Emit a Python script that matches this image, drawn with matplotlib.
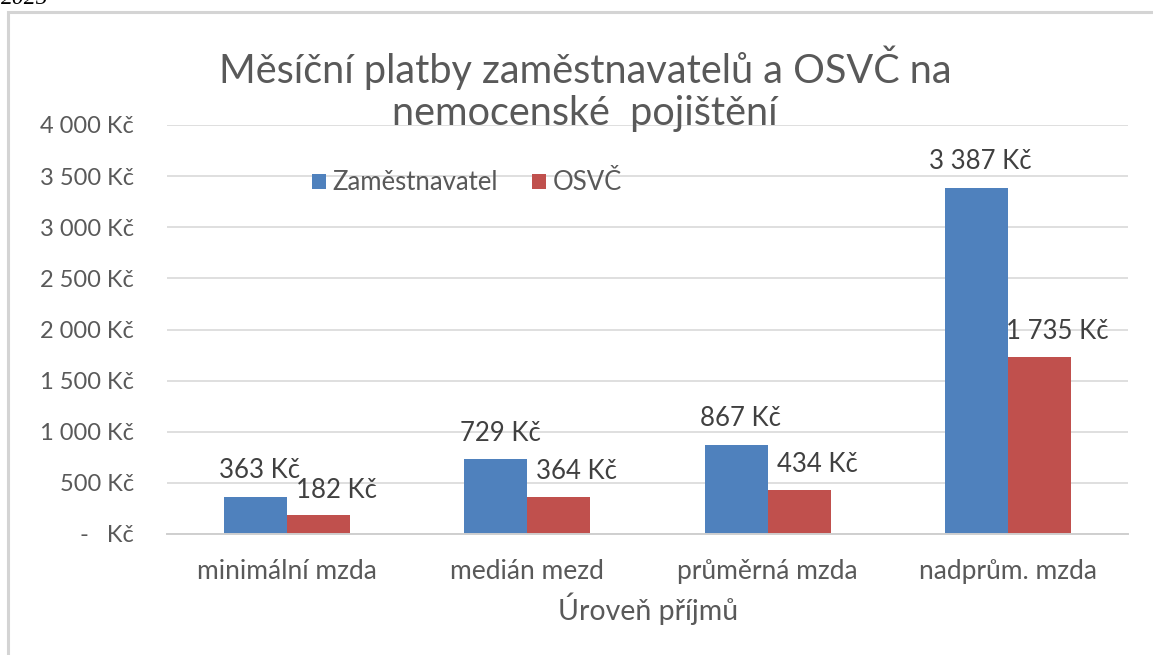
#################### Libraries
import matplotlib.pyplot as plt
from matplotlib.patches import Rectangle
from matplotlib.ticker import FuncFormatter

#################### Data
kategorie = ['minimální mzda', 'medián mezd', 'průměrná mzda', 'nadprům. mzda']
zamestnavatel = [363, 729, 867, 3387]
osvc = [182, 364, 434, 1735]
serie_nazvy = ['Zaměstnavatel', 'OSVČ']

#################### Style
plt.rcParams['font.family'] = ['Lato', 'DejaVu Sans']
modra = '#4F81BD'
cervena = '#C0504D'
seda_text = '#595959'

def kc(v, pos=None):
    if v == 0:
        return '-   Kč'
    return '{:,} Kč'.format(int(v)).replace(',', ' ')

#################### Figure
fig = plt.figure(figsize=(11.53, 6.55), dpi=100)
ax = fig.add_axes([167/1153, 1-534/655, 961/1153, 409/655])

# chart frame (cut off at right and bottom like the screenshot)
fig.patches.append(Rectangle((8/1153, -0.1), 1.2, 1.1 - 12/655, transform=fig.transFigure,
                             fill=False, edgecolor='#d4d4d4', lw=2.2))
fig.text(0.001, 1 - 4/655, '2025', family='Liberation Serif', style='italic',
         fontsize=17, va='baseline', ha='left', color='black')

x = list(range(len(kategorie)))
w = 0.2625
b1 = ax.bar([i - w/2 for i in x], zamestnavatel, w, color=modra, label=serie_nazvy[0], zorder=3)
b2 = ax.bar([i + w/2 for i in x], osvc, w, color=cervena, label=serie_nazvy[1], zorder=3)

#################### Data labels
for rect, v in zip(b1, zamestnavatel):
    ax.annotate(kc(v), (rect.get_x() + rect.get_width()/2, v), xytext=(3, 19),
                textcoords='offset points', ha='center', va='center',
                fontsize=18.5, color='#404040')
for rect, v in zip(b2, osvc):
    ax.annotate(kc(v), (rect.get_x() + rect.get_width()/2, v), xytext=(13, 18),
                textcoords='offset points', ha='center', va='center',
                fontsize=18.5, color='#404040')

#################### Axes
ax.set_xlim(-0.5, len(kategorie) - 0.5)
ax.set_ylim(0, 4000)
ax.set_yticks(range(0, 4001, 500))
ax.yaxis.set_major_formatter(FuncFormatter(kc))
ax.set_xticks(x)
ax.set_xticklabels(kategorie)
ax.tick_params(axis='y', length=0, pad=24, labelsize=17, labelcolor=seda_text)
ax.tick_params(axis='x', length=0, pad=18, labelsize=19, labelcolor=seda_text)
ax.grid(axis='y', color='#d9d9d9', lw=1.2, zorder=0)
for s in ['top', 'right', 'left']:
    ax.spines[s].set_visible(False)
ax.spines['bottom'].set_color('#cfcfcf')
ax.spines['bottom'].set_linewidth(1.4)
ax.spines['bottom'].set_zorder(4)

#################### Titles and legend
fig.text(585/1153, 1 - 89/655, 'Měsíční platby zaměstnavatelů a OSVČ na\nnemocenské  pojištění',
         ha='center', va='center', fontsize=28.5, color=seda_text, linespacing=1.15)
fig.text(648/1153, 1 - 609/655, 'Úroveň příjmů', ha='center', va='center',
         fontsize=20.5, color=seda_text)
ax.legend(loc='center', bbox_to_anchor=(467/1153, 1 - 183/655), bbox_transform=fig.transFigure,
          ncol=2, frameon=False, fontsize=18.5, handlelength=0.55, handleheight=0.55,
          handletextpad=0.25, columnspacing=1.3, labelcolor=seda_text)

fig.savefig('out.png', dpi=100)
